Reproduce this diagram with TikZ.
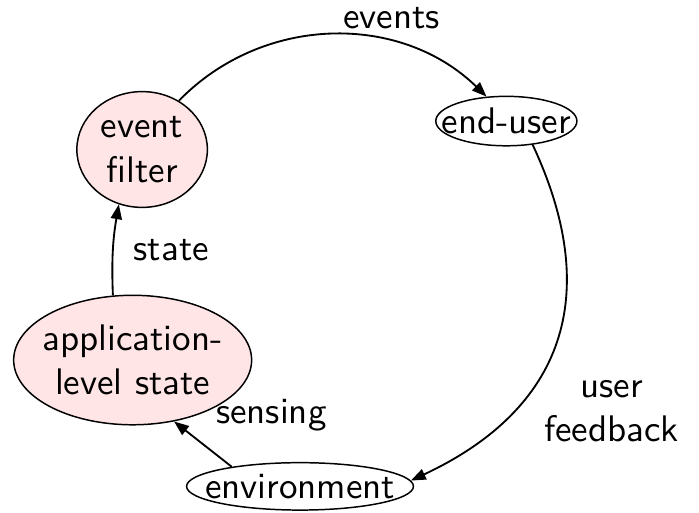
\documentclass[tikz,border=0pt]{standalone}
\usetikzlibrary{arrows.meta,shapes.geometric}
\tikzset{
    %Define standard arrow tip
    >={Triangle[length=4pt,width=3pt]},
    %Define style for the shaded ellipses
    stage/.style={
           ellipse,
           draw=black,
           fill=red!10,
           inner sep=0pt},
    %Define style for the plain ellipses
    actor/.style={
           ellipse,
           draw=black,
           inner xsep=-4pt,
           inner ysep=1.2pt},
    % Define arrow style
    flow/.style={
           ->,
           line width=0.5pt},
    every node/.style={font=\sffamily, align=center}
}
\begin{document}
\begin{tikzpicture}
\useasboundingbox (0,0) rectangle (6.64,-4.87);

%event filter
\node[stage, minimum width=1.24cm, minimum height=1.10cm] (filter) at (1.35,-1.42) {event\\filter};
%end-user, fed by the filter
\node[actor] (user) at (4.81,-1.15) {end-user};
%application-level state
\node[stage, inner xsep=-1.6pt, minimum height=1.23cm] (appstate) at (1.26,-3.42) {application-\\level state};
%environment
\node[actor] (env) at (2.85,-4.62) {environment};

%the loop
\path
 (filter.53) edge[flow, bend left=45] node[pos=0.68, above]{events} (user.129)
 (user.318) edge[flow, bend left=45, looseness=1.2] node[pos=0.72, right=5pt]{user\\feedback} (env.3)
 (env.164) edge[flow] node[above right]{sensing} (appstate.-56)
 (appstate.107) edge[flow, bend left=6] node[right=2pt]{state} (filter.247)
 ;

\end{tikzpicture}
\end{document}
